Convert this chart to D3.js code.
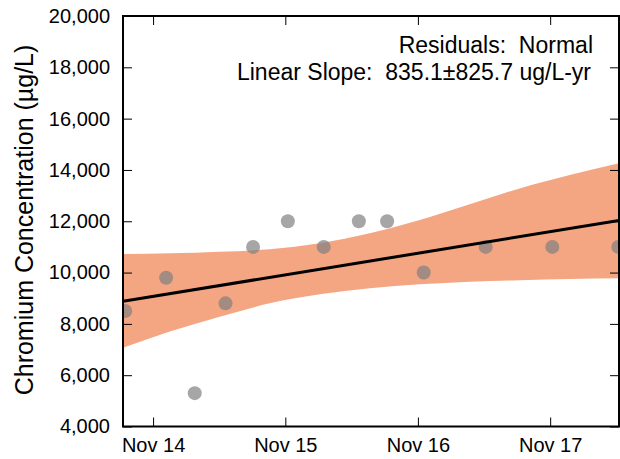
<!DOCTYPE html>
<html>
<head>
<meta charset="utf-8">
<script src="https://cdn.jsdelivr.net/npm/d3@7"></script>
<style>
  html, body { margin: 0; padding: 0; background: #fff; }
  svg { display: block; font-family: "Liberation Sans", Arial, Helvetica, sans-serif; }
</style>
</head>
<body>
<svg id="chart" width="620" height="459"></svg>
<script>
// ---- Data ----
const sampleDates = ["2014-08-16","2014-12-07","2015-02-24","2015-05-20","2015-08-04","2015-11-08",
                     "2016-02-15","2016-05-22","2016-08-08","2016-11-17","2017-05-07","2017-11-07","2018-05-08"];
const concentrations = [8500, 9800, 5300, 8800, 11000, 12000, 11000, 12000, 12000, 10000, 11000, 11000, 11000];

const bandDates = ["2014-08-10","2014-12-17","2015-05-04","2015-09-19","2016-02-04","2016-06-21",
                   "2016-11-06","2017-03-24","2017-08-09","2017-12-25","2018-05-10"];
const bandUpper = [10720, 10750, 10810, 10910, 11140, 11530, 12050, 12660, 13280, 13800, 14260];
const bandLower = [7070, 7700, 8280, 8800, 9150, 9390, 9540, 9640, 9700, 9750, 9780];

const trendDates = ["2014-08-10", "2018-05-10"];
const trendValues = [8880, 12030];

const xTickDates = ["2014-11-01","2015-11-01","2016-11-01","2017-11-01"];
const yTickValues = [4000, 6000, 8000, 10000, 12000, 14000, 16000, 18000, 20000];

const yLabel = "Chromium Concentration (µg/L)";
const annotation1 = "Residuals:  Normal";
const annotation2 = "Linear Slope:  835.1±825.7 ug/L-yr";

// ---- Layout ----
const parse = d3.timeParse("%Y-%m-%d");
const pLeft = 123, pRight = 619, pTop = 16, pBottom = 426.5;

const x = d3.scaleTime()
  .domain([parse("2014-08-10"), parse("2018-05-10")])
  .range([pLeft, pRight]);
const y = d3.scaleLinear().domain([4000, 20000]).range([pBottom, pTop]);

const svg = d3.select("#chart");

svg.append("defs").append("clipPath").attr("id", "plotclip")
  .append("rect").attr("x", pLeft).attr("y", pTop)
  .attr("width", pRight - pLeft).attr("height", pBottom - pTop);

const plot = svg.append("g").attr("clip-path", "url(#plotclip)");

// Confidence band
const band = bandDates.map((d, i) => ({ date: parse(d), hi: bandUpper[i], lo: bandLower[i] }));
plot.append("path")
  .datum(band)
  .attr("fill", "#f4a582")
  .attr("d", d3.area()
    .x(d => x(d.date))
    .y0(d => y(d.lo))
    .y1(d => y(d.hi))
    .curve(d3.curveMonotoneX));

// Points
const pts = sampleDates.map((d, i) => ({ date: parse(d), v: concentrations[i] }));
plot.selectAll("circle.pt").data(pts).enter().append("circle")
  .attr("class", "pt")
  .attr("cx", d => x(d.date))
  .attr("cy", d => y(d.v))
  .attr("r", 7)
  .attr("fill", "#808080")
  .attr("fill-opacity", 0.7);

// Trend line
const trend = trendDates.map((d, i) => ({ date: parse(d), v: trendValues[i] }));
plot.append("path")
  .datum(trend)
  .attr("fill", "none")
  .attr("stroke", "#000")
  .attr("stroke-width", 3)
  .attr("d", d3.line().x(d => x(d.date)).y(d => y(d.v)));

// Axes
const xTicks = xTickDates.map(parse);
const fmtX = d3.timeFormat("%b %y");
const fmtY = d3.format(",");

const xAxisB = d3.axisBottom(x).tickValues(xTicks).tickFormat(fmtX).tickSizeInner(-9).tickSizeOuter(0).tickPadding(11);
const xAxisT = d3.axisTop(x).tickValues(xTicks).tickFormat("").tickSizeInner(-9).tickSizeOuter(0);
const yAxisL = d3.axisLeft(y).tickValues(yTickValues).tickFormat(fmtY).tickSizeInner(-9).tickSizeOuter(0).tickPadding(13);
const yAxisR = d3.axisRight(y).tickValues(yTickValues).tickFormat("").tickSizeInner(-9).tickSizeOuter(0);

function styleAxis(g) {
  g.select(".domain").remove();
  g.selectAll(".tick line").attr("stroke", "#000").attr("stroke-width", 1);
  g.selectAll(".tick text").attr("fill", "#000").style("font-size", "20px")
    .style("font-family", "\"Liberation Sans\", Arial, sans-serif");
}

svg.append("g").attr("transform", `translate(0,${pBottom})`).call(xAxisB).call(styleAxis);
svg.append("g").attr("transform", `translate(0,${pTop})`).call(xAxisT).call(styleAxis);
svg.append("g").attr("transform", `translate(${pLeft},0)`).call(yAxisL).call(styleAxis);
svg.append("g").attr("transform", `translate(${pRight},0)`).call(yAxisR).call(styleAxis);

// Frame
svg.append("rect")
  .attr("x", pLeft).attr("y", pTop)
  .attr("width", pRight - pLeft).attr("height", pBottom - pTop)
  .attr("fill", "none").attr("stroke", "#000").attr("stroke-width", 2);

// Y label
svg.append("text")
  .attr("transform", `translate(33,220) rotate(-90)`)
  .attr("text-anchor", "middle")
  .style("font-size", "25px")
  .attr("fill", "#000")
  .text(yLabel);

// Annotations
svg.append("text")
  .attr("x", 593).attr("y", 53)
  .attr("text-anchor", "end")
  .style("font-size", "23px")
  .style("white-space", "pre")
  .attr("fill", "#000")
  .text(annotation1);
svg.append("text")
  .attr("x", 591).attr("y", 80)
  .attr("text-anchor", "end")
  .style("font-size", "23px")
  .style("white-space", "pre")
  .attr("fill", "#000")
  .text(annotation2);
</script>
</body>
</html>
